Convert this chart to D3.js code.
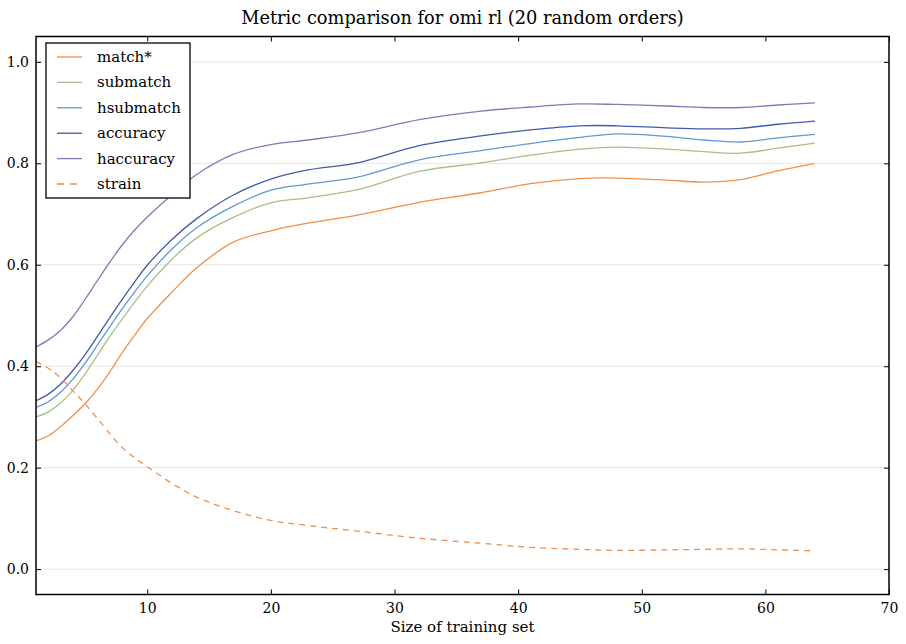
<!DOCTYPE html>
<html><head><meta charset="utf-8">
<script src="https://cdn.jsdelivr.net/npm/d3@7"></script>
<style>
html,body{margin:0;padding:0;background:#fff;}
svg{display:block;}
</style></head>
<body><svg id="c" width="906" height="644"></svg>
<script>
const sizes = [1,2,3,4,5,6,7,8,9,10,12,14,17,20,23,27,32,37,41,45,48,52,55,58,61,64];
const matchStar = [0.253,0.263,0.281,0.303,0.327,0.356,0.390,0.428,0.462,0.494,0.546,0.594,0.645,0.667,0.682,0.698,0.723,0.742,0.760,0.770,0.771,0.767,0.763,0.768,0.785,0.800];
const submatch  = [0.300,0.310,0.328,0.353,0.386,0.423,0.460,0.494,0.527,0.558,0.611,0.653,0.694,0.722,0.732,0.748,0.784,0.801,0.816,0.828,0.832,0.828,0.823,0.820,0.830,0.840];
const hsubmatch = [0.319,0.330,0.349,0.375,0.407,0.443,0.479,0.514,0.547,0.578,0.631,0.673,0.716,0.747,0.759,0.773,0.807,0.825,0.839,0.851,0.858,0.853,0.846,0.842,0.850,0.857];
const accuracy  = [0.332,0.345,0.365,0.392,0.424,0.460,0.497,0.533,0.567,0.599,0.650,0.691,0.738,0.769,0.787,0.801,0.835,0.854,0.866,0.874,0.874,0.870,0.868,0.869,0.877,0.883];
const haccuracy = [0.438,0.452,0.471,0.498,0.533,0.570,0.606,0.640,0.669,0.694,0.738,0.778,0.818,0.837,0.846,0.860,0.886,0.903,0.911,0.917,0.916,0.913,0.910,0.910,0.915,0.919];
const strain    = [0.409,0.396,0.377,0.351,0.325,0.296,0.266,0.239,0.219,0.202,0.169,0.142,0.115,0.096,0.086,0.075,0.061,0.051,0.043,0.039,0.037,0.038,0.039,0.040,0.038,0.036];
const seriesNames = ["match*","submatch","hsubmatch","accuracy","haccuracy","strain"];
const seriesColors = ["#f0904a","#a9bf87","#5f9ad0","#4459aa","#8a76b6","#f0904a"];
const xTicks = [10,20,30,40,50,60,70];
const yTicks = [0.0,0.2,0.4,0.6,0.8,1.0];
const titleText = "Metric comparison for omi rl (20 random orders)";
const xLabel = "Size of training set";

const FONT = "'DejaVu Serif', serif";
const allSeries = [matchStar, submatch, hsubmatch, accuracy, haccuracy, strain];
const svg = d3.select("#c");
const L = 36, R = 889, T = 36.5, B = 594.5;
const x = d3.scaleLinear().domain([1,70]).range([L,R]);
const y = d3.scaleLinear().domain([-0.05,1.05]).range([B,T]);

svg.append("g").selectAll("line").data(yTicks).join("line")
  .attr("x1",L).attr("x2",R).attr("y1",d=>y(d)).attr("y2",d=>y(d))
  .attr("stroke","#e6e6e6").attr("stroke-width",1);

const line = d3.line().x((d,i)=>x(sizes[i])).y(d=>y(d)).curve(d3.curveCatmullRom.alpha(0.5));
allSeries.forEach((s,k)=>{
  svg.append("path").datum(s).attr("d",line).attr("fill","none")
    .attr("stroke",seriesColors[k]).attr("stroke-width",1.3)
    .attr("stroke-dasharray", k===5 ? "6,5" : null);
});

const tl = 5;
const axG = svg.append("g");
axG.append("g").attr("transform",`translate(0,${B})`)
  .call(d3.axisBottom(x).tickValues(xTicks).tickSize(-tl).tickPadding(9).tickFormat(d3.format("d")))
  .call(g=>g.select(".domain").remove());
axG.append("g").attr("transform",`translate(0,${T})`)
  .call(d3.axisTop(x).tickValues(xTicks).tickSize(-tl).tickFormat(""))
  .call(g=>g.select(".domain").remove());
axG.append("g").attr("transform",`translate(${L},0)`)
  .call(d3.axisLeft(y).tickValues(yTicks).tickSize(-tl).tickPadding(7).tickFormat(d3.format(".1f")))
  .call(g=>g.select(".domain").remove());
axG.append("g").attr("transform",`translate(${R},0)`)
  .call(d3.axisRight(y).tickValues(yTicks).tickSize(-tl).tickFormat(""))
  .call(g=>g.select(".domain").remove());
axG.selectAll("g").attr("font-family",FONT).attr("font-size",14);
axG.selectAll(".tick line").attr("stroke","#000").attr("stroke-width",1);
axG.selectAll(".tick text").attr("fill","#000");

svg.append("rect").attr("x",L).attr("y",T).attr("width",R-L).attr("height",B-T)
  .attr("fill","none").attr("stroke","#000").attr("stroke-width",1.5);

svg.append("text").attr("x",(L+R)/2).attr("y",24).attr("text-anchor","middle")
  .attr("font-family",FONT).attr("font-size",17.8).text(titleText);
svg.append("text").attr("x",(L+R)/2).attr("y",632).attr("text-anchor","middle")
  .attr("font-family",FONT).attr("font-size",15).text(xLabel);

const lg = svg.append("g");
lg.append("rect").attr("x",46).attr("y",43).attr("width",144).attr("height",155)
  .attr("fill","#fff").attr("stroke","#000").attr("stroke-width",1.3);
seriesNames.forEach((n,k)=>{
  const yy = 57 + k*25.4;
  lg.append("line").attr("x1",57).attr("x2",82).attr("y1",yy).attr("y2",yy)
    .attr("stroke",seriesColors[k]).attr("stroke-width",1.3)
    .attr("stroke-dasharray", k===5 ? "7,6" : null);
  lg.append("text").attr("x",97).attr("y",yy+5).attr("font-family",FONT).attr("font-size",15).text(n);
});
</script></body></html>
